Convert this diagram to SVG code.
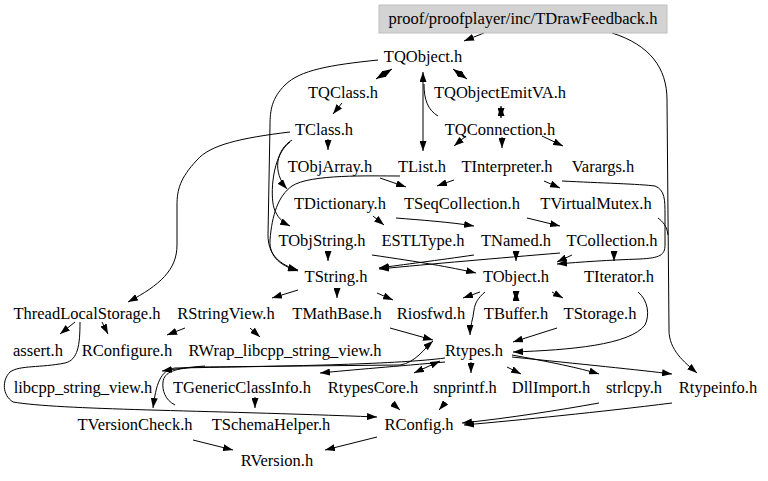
<svg xmlns="http://www.w3.org/2000/svg" width="768" height="481" viewBox="0 0 768 481">
<defs>
<marker id="ah" viewBox="0 0 10 7" refX="10" refY="3.5" markerWidth="10" markerHeight="7" markerUnits="userSpaceOnUse" orient="auto-start-reverse"><path d="M0,0L10,3.5L0,7z" fill="#000"/></marker>
<style>
.t text{font-size:16.5px;fill:#000;text-anchor:middle}
.e{fill:none;stroke:#000;stroke-width:1}
.a{marker-end:url(#ah)}
.d{marker-start:url(#ah);marker-end:url(#ah)}
</style>
</defs>
<rect x="0" y="0" width="768" height="481" fill="#fff"/>
<g id="edges">
<path class="e a" d="M484,33 L464,41"/>
<path class="e a" d="M612,33 C650,45 667,68 667,100 L669,330 C669,350 684,362 697,373"/>
<path class="e d" d="M392,69 L376,79"/>
<path class="e d" d="M453,69 L467,79"/>
<path class="e d" d="M423,72 L423,151"/>
<path class="e" d="M438,116 C428,110 424,100 424,84"/>
<path class="e d" d="M501,106 L501,118"/>
<path class="e a" d="M342,103 L333,114"/>
<path class="e a" d="M466,136 L454,146"/>
<path class="e a" d="M502,137 L502,148"/>
<path class="e a" d="M542,136 L563,146"/>
<path class="e a" d="M328,139 L328,150"/>
<path class="e a" d="M380,178 L406,187"/>
<path class="e a" d="M454,180 L437,186"/>
<path class="e a" d="M544,181 L560,188"/>
<path class="e a" d="M400,176 C370,176 310,174 292,186 C278,196 272,215 270,240 C269,258 282,266 298,271"/>
<path class="e a" d="M378,60 C330,65 300,70 285,85 C272,98 270,110 270,125 L268,235 C268,255 280,265 298,270"/>
<path class="e a" d="M292,140 C276,150 272,172 287,189"/>
<path class="e a" d="M290,142 C272,155 270,195 274,208 C277,217 282,222 290,226"/>
<path class="e a" d="M290,132 C240,138 210,145 197,160 C180,178 177,190 177,205 L177,245 C177,270 160,285 128,302"/>
<path class="e a" d="M373,216 L384,225"/>
<path class="e a" d="M396,218 C420,220 450,222 474,226"/>
<path class="e a" d="M527,218 L560,226"/>
<path class="e" d="M658,218 C663,222 667,226 668,235"/>
<path class="e a" d="M328,252 L328,261"/>
<path class="e a" d="M372,255 C420,262 450,267 476,273"/>
<path class="e a" d="M516,253 L516,261"/>
<path class="e a" d="M474,255 C440,260 400,265 379,268"/>
<path class="e a" d="M560,253 C500,258 430,264 379,269"/>
<path class="e a" d="M572,255 L557,262"/>
<path class="e a" d="M614,252 L614,261"/>
<path class="e a" d="M562,181 C600,183 640,184 655,186 C665,190 665,200 665,215 L665,245 C665,255 660,258 640,259 C610,260 580,262 557,264"/>
<path class="e a" d="M298,290 L272,298"/>
<path class="e a" d="M337,288 L337,298"/>
<path class="e a" d="M377,293 L393,300"/>
<path class="e a" d="M480,292 L463,298"/>
<path class="e a" d="M485,292 C478,298 475,303 474,310 C473,320 470,325 470,335"/>
<path class="e d" d="M516,291 L516,301"/>
<path class="e a" d="M552,292 L563,298"/>
<path class="e a" d="M638,292 C648,300 650,315 645,325 C630,345 570,350 513,352"/>
<path class="e a" d="M75,322 L60,334"/>
<path class="e a" d="M102,322 L108,334"/>
<path class="e a" d="M80,322 C80,345 78,360 65,363 C40,368 20,365 10,372 C2,380 2,395 13,402 C60,410 200,410 377,417"/>
<path class="e a" d="M185,328 L167,335"/>
<path class="e a" d="M250,328 L260,337"/>
<path class="e a" d="M390,328 L433,340"/>
<path class="e a" d="M557,328 L513,342"/>
<path class="e a" d="M445,358 C400,364 300,366 175,368 C160,370 156,385 153,408"/>
<path class="e a" d="M175,405 C165,400 162,390 163,382 C164,372 175,368 200,367 L400,365 C415,363 425,348 433,341"/>
<path class="e a" d="M445,362 C400,366 350,370 320,373"/>
<path class="e a" d="M205,366 C190,367 175,369 162,371"/>
<path class="e d" d="M440,361 L414,373"/>
<path class="e a" d="M471,362 L471,373"/>
<path class="e a" d="M507,367 L521,374"/>
<path class="e a" d="M512,355 C550,362 580,368 599,374"/>
<path class="e a" d="M512,357 C580,364 640,370 672,374"/>
<path class="e a" d="M255,397 L255,408"/>
<path class="e a" d="M392,403 L400,410"/>
<path class="e a" d="M445,403 L439,410"/>
<path class="e a" d="M599,403 C560,410 510,418 462,423"/>
<path class="e a" d="M672,403 C600,412 520,420 464,425"/>
<path class="e a" d="M193,440 L233,450"/>
<path class="e a" d="M377,437 L325,450"/>
</g>
<g class="t" font-family="'Liberation Serif', 'DejaVu Serif', 'Times New Roman', serif">
<g id="n_root"><rect x="379" y="5" width="288" height="28" fill="#d3d3d3" stroke="#bfbfbf"/><text x="523" y="24">proof/proofplayer/inc/TDrawFeedback.h</text></g>
<g id="n_TQObject"><text x="423" y="61.5">TQObject.h</text></g>
<g id="n_TQClass"><text x="343" y="98.3">TQClass.h</text></g>
<g id="n_TQObjectEmitVA"><text x="500" y="98.3">TQObjectEmitVA.h</text></g>
<g id="n_TClass"><text x="324" y="135.1">TClass.h</text></g>
<g id="n_TQConnection"><text x="500" y="135.1">TQConnection.h</text></g>
<g id="n_TObjArray"><text x="330" y="171.9">TObjArray.h</text></g>
<g id="n_TList"><text x="422" y="171.9">TList.h</text></g>
<g id="n_TInterpreter"><text x="507" y="171.9">TInterpreter.h</text></g>
<g id="n_Varargs"><text x="603" y="171.9">Varargs.h</text></g>
<g id="n_TDictionary"><text x="340" y="208.7">TDictionary.h</text></g>
<g id="n_TSeqCollection"><text x="462" y="208.7">TSeqCollection.h</text></g>
<g id="n_TVirtualMutex"><text x="596" y="208.7">TVirtualMutex.h</text></g>
<g id="n_TObjString"><text x="322" y="245.5">TObjString.h</text></g>
<g id="n_ESTLType"><text x="423" y="245.5">ESTLType.h</text></g>
<g id="n_TNamed"><text x="516" y="245.5">TNamed.h</text></g>
<g id="n_TCollection"><text x="612" y="245.5">TCollection.h</text></g>
<g id="n_TString"><text x="336" y="282.3">TString.h</text></g>
<g id="n_TObject"><text x="516" y="282.3">TObject.h</text></g>
<g id="n_TIterator"><text x="619" y="282.3">TIterator.h</text></g>
<g id="n_ThreadLocalStorage"><text x="87" y="319.1">ThreadLocalStorage.h</text></g>
<g id="n_RStringView"><text x="226" y="319.1">RStringView.h</text></g>
<g id="n_TMathBase"><text x="337" y="319.1">TMathBase.h</text></g>
<g id="n_Riosfwd"><text x="431" y="319.1">Riosfwd.h</text></g>
<g id="n_TBuffer"><text x="516" y="319.1">TBuffer.h</text></g>
<g id="n_TStorage"><text x="600" y="319.1">TStorage.h</text></g>
<g id="n_assert"><text x="38" y="355.9">assert.h</text></g>
<g id="n_RConfigure"><text x="127" y="355.9">RConfigure.h</text></g>
<g id="n_RWrap"><text x="285" y="355.9">RWrap_libcpp_string_view.h</text></g>
<g id="n_Rtypes"><text x="474" y="355.9">Rtypes.h</text></g>
<g id="n_libcpp"><text x="83" y="392.7">libcpp_string_view.h</text></g>
<g id="n_TGenericClassInfo"><text x="242" y="392.7">TGenericClassInfo.h</text></g>
<g id="n_RtypesCore"><text x="373" y="392.7">RtypesCore.h</text></g>
<g id="n_snprintf"><text x="465" y="392.7">snprintf.h</text></g>
<g id="n_DllImport"><text x="551" y="392.7">DllImport.h</text></g>
<g id="n_strlcpy"><text x="634" y="392.7">strlcpy.h</text></g>
<g id="n_Rtypeinfo"><text x="718" y="392.7">Rtypeinfo.h</text></g>
<g id="n_TVersionCheck"><text x="135" y="429.5">TVersionCheck.h</text></g>
<g id="n_TSchemaHelper"><text x="271" y="429.5">TSchemaHelper.h</text></g>
<g id="n_RConfig"><text x="419" y="429.5">RConfig.h</text></g>
<g id="n_RVersion"><text x="277" y="466.3">RVersion.h</text></g>
</g>
</svg>
